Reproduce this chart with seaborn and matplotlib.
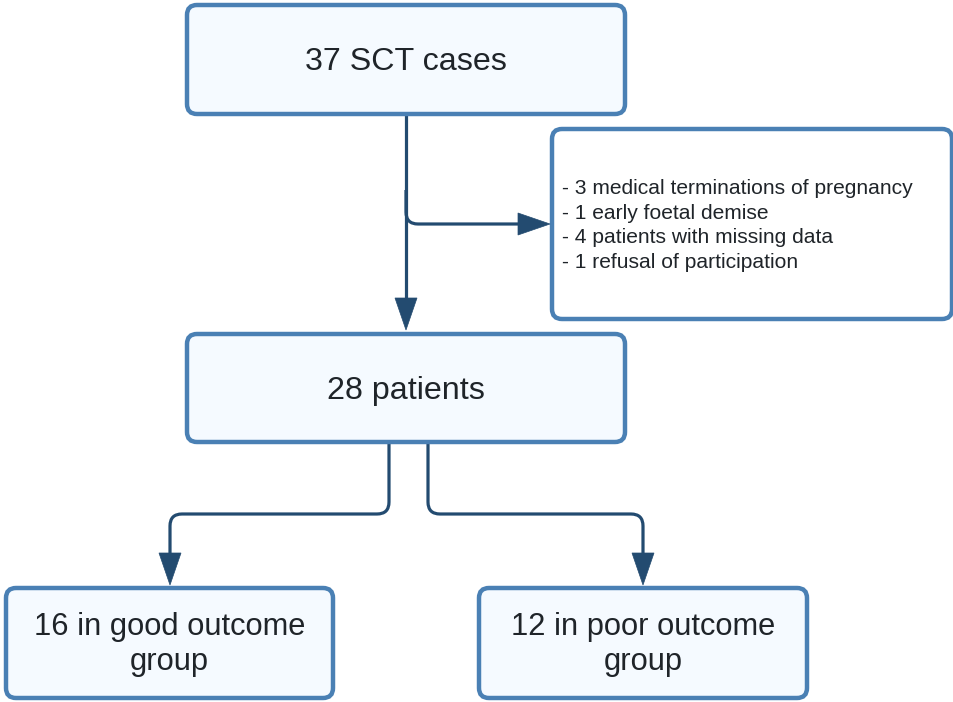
import numpy as np
import seaborn as sns
import matplotlib.pyplot as plt
from matplotlib.patches import FancyBboxPatch, Polygon, PathPatch
from matplotlib.path import Path

sns.set_theme(style="white")
plt.rcParams['font.family'] = ['Liberation Sans', 'DejaVu Sans']

# flowchart content
box_labels = ["37 SCT cases", "28 patients",
              "16 in good outcome\ngroup", "12 in poor outcome\ngroup"]
label_sizes = [23.2, 23.2, 22.2, 22.2]
excluded = ["3 medical terminations of pregnancy",
            "1 early foetal demise",
            "4 patients with missing data",
            "1 refusal of participation"]

# boxes in pixel space: x0, y0, x1, y1
boxes = [(187, 5, 625, 114), (187, 334, 625, 442),
         (6, 588, 333, 698), (479, 588, 807, 698)]
side_box = (552, 129, 952, 319)

edge_c = "#4A80B4"
fill_c = "#F5FAFF"
line_c = "#234B70"
text_c = "#1F2429"

fig = plt.figure(figsize=(9.54, 7.02), dpi=100)
ax = fig.add_axes([0, 0, 1, 1])
ax.set_xlim(0, 954)
ax.set_ylim(702, 0)
ax.axis("off")


def rbox(b, fc):
    x0, y0, x1, y1 = b
    p = FancyBboxPatch((x0, y0), x1 - x0, y1 - y0,
                       boxstyle="round,pad=0,rounding_size=10",
                       fc=fc, ec=edge_c, lw=3.2, zorder=2)
    ax.add_patch(p)


def rounded_path(pts, r=12):
    verts = [pts[0]]
    codes = [Path.MOVETO]
    for i in range(1, len(pts) - 1):
        p0, p1, p2 = map(np.array, (pts[i - 1], pts[i], pts[i + 1]))
        d1 = (p1 - p0) / np.linalg.norm(p1 - p0)
        d2 = (p2 - p1) / np.linalg.norm(p2 - p1)
        verts += [tuple(p1 - d1 * r), tuple(p1), tuple(p1 + d2 * r)]
        codes += [Path.LINETO, Path.CURVE3, Path.CURVE3]
    verts.append(pts[-1])
    codes.append(Path.LINETO)
    ax.add_patch(PathPatch(Path(verts, codes), fc="none", ec=line_c,
                           lw=2.3, capstyle="butt", zorder=1))


def head(tip, direction, length=32, width=22):
    tx, ty = tip
    if direction == "down":
        pts = [(tx, ty), (tx - width / 2, ty - length), (tx + width / 2, ty - length)]
    else:
        pts = [(tx, ty), (tx - length, ty - width / 2), (tx - length, ty + width / 2)]
    ax.add_patch(Polygon(pts, closed=True, fc=line_c, ec=line_c, lw=0.5, zorder=3))


for b in boxes:
    rbox(b, fill_c)
rbox(side_box, "white")

# connectors
rounded_path([(406, 114), (406, 300)])
head((406, 330), "down")
rounded_path([(406, 190), (406, 224), (522, 224)])
head((550, 224), "right")
rounded_path([(389, 442), (389, 514), (170, 514), (170, 556)])
head((170, 585), "down")
rounded_path([(428, 442), (428, 514), (643, 514), (643, 556)])
head((643, 585), "down")

# texts
for b, lab, fs in zip(boxes, box_labels, label_sizes):
    x0, y0, x1, y1 = b
    dy = 2.5 if "\n" not in lab else 1.5
    ax.text((x0 + x1) / 2, (y0 + y1) / 2 + dy, lab, ha="center", va="center",
            fontsize=fs, color=text_c, linespacing=1.24, zorder=4)

ax.text(562, 225.5, "\n".join("- " + e for e in excluded), ha="left", va="center",
        fontsize=15.1, color=text_c, linespacing=1.38, zorder=4)

fig.savefig("out.png", dpi=100)
